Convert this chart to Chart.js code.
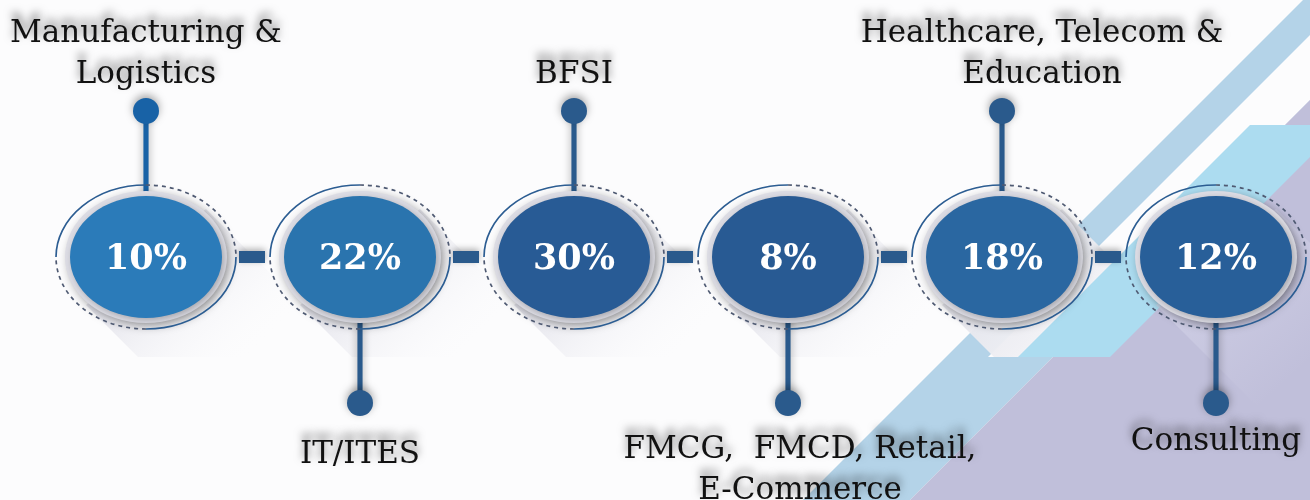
<!DOCTYPE html>
<html>
<head>
<meta charset="utf-8">
<title>Industry mix</title>
<script src="https://cdn.jsdelivr.net/npm/chart.js@4.4.1/dist/chart.umd.min.js"></script>
<style>
  html, body { margin: 0; padding: 0; background: #fcfcfd; }
  #wrap { width: 1310px; height: 500px; position: relative; }
</style>
</head>
<body>
<div id="wrap"><canvas id="myChart"></canvas></div>
<script>
///////////// DATA /////////////

const industries = [
  ['Manufacturing &', 'Logistics'],
  ['IT/ITES'],
  ['BFSI'],
  ['FMCG,  FMCD, Retail,', 'E-Commerce'],
  ['Healthcare, Telecom &', 'Education'],
  ['Consulting']
];
const shares = [10, 22, 30, 8, 18, 12];      // % share per industry
const side = [1, -1, 1, -1, 1, -1];          // label above (1) or below (-1) the node

///////////// LOOK /////////////

const fills = ['#2b7bb9', '#2a74ae', '#285b95', '#285a93', '#2a67a1', '#285f99'];
const dotColors = ['#1862a6', '#2a5a8c', '#2a5a8c', '#2a5a8c', '#2a5a8c', '#2a5a8c'];
const labelShift = [[0, 0], [0, 5], [0, 0], [12, 0], [40, 0], [0, -8]];  // nudges in px
const serif = '"DejaVu Serif", "Liberation Serif", serif';

function poly(ctx, pts, color) {
  ctx.beginPath();
  pts.forEach(([x, y], i) => i ? ctx.lineTo(x, y) : ctx.moveTo(x, y));
  ctx.closePath();
  ctx.fillStyle = color;
  ctx.fill();
}

// background stripes + long soft shadows behind the nodes
const backdrop = {
  id: 'backdrop',
  beforeDraw(chart) {
    const { ctx, width, height } = chart;
    ctx.save();
    ctx.fillStyle = '#fcfcfd';
    ctx.fillRect(0, 0, width, height);
    poly(ctx, [[1303, 0], [1410, 0], [910, 500], [803, 500]], '#b4d3e8');
    poly(ctx, [[1345, 0], [1410, 0], [1053, 357], [988, 357]], '#fcfcfd');
    ctx.restore();
  },
  beforeDatasetsDraw(chart) {
    const { ctx, scales: { x, y } } = chart;
    const cy = y.getPixelForValue(0);
    ctx.save();
    shares.forEach((v, i) => {
      if (i === 5) return;
      const cx = x.getPixelForValue(i);
      const ax = cx - 60, ay = cy + 48, bx = cx + 60, by = cy - 48;
      const g = ctx.createLinearGradient(cx, cy, cx + 100, cy + 100);
      if (i === 4) {
        g.addColorStop(0, 'rgba(228,228,235,0.97)');
        g.addColorStop(1, 'rgba(250,250,252,0.93)');
      } else {
        g.addColorStop(0, 'rgba(215,215,226,0.7)');
        g.addColorStop(1, 'rgba(250,250,252,0)');
      }
      poly(ctx, [[ax, ay], [bx, by], [bx + (357 - by), 357], [ax + (357 - ay), 357]], g);
    });
    // lavender corner and cyan block sit above the long shadows
    poly(ctx, [[1310, 100], [1310, 500], [910, 500]], '#c0bfda');
    poly(ctx, [[1250, 125], [1342, 125], [1110, 357], [1018, 357]], '#acdcf0');
    const g2 = ctx.createLinearGradient(1216, 257, 1310, 360);
    g2.addColorStop(0, 'rgba(215,215,235,0.6)');
    g2.addColorStop(1, 'rgba(215,215,235,0)');
    poly(ctx, [[1156, 305], [1276, 209], [1424, 357], [1304, 453]], g2);
    ctx.restore();
  },
  beforeDatasetDraw(chart) {
    const { ctx } = chart;
    ctx.save();
    ctx.shadowColor = 'rgba(0,0,0,0.35)';
    ctx.shadowBlur = 8;
    ctx.shadowOffsetY = -3;
  },
  afterDatasetDraw(chart) {
    chart.ctx.restore();
  },
  afterDatasetsDraw(chart) {
    const { ctx, scales: { x, y } } = chart;
    const cy = y.getPixelForValue(0);
    ctx.save();

    // connectors between nodes
    for (let i = 0; i < shares.length - 1; i++) {
      const mid = (x.getPixelForValue(i) + x.getPixelForValue(i + 1)) / 2;
      ctx.save();
      ctx.shadowColor = 'rgba(0,0,0,0.3)';
      ctx.shadowBlur = 6;
      ctx.shadowOffsetY = -2;
      ctx.fillStyle = '#2a5a8c';
      ctx.fillRect(mid - 14, cy - 6, 26, 12);
      ctx.restore();
    }

    shares.forEach((v, i) => {
      const cx = x.getPixelForValue(i);

      // soft grey bevel
      ctx.save();
      ctx.shadowColor = 'rgba(0,0,0,0.35)';
      ctx.shadowBlur = 10;
      ctx.shadowOffsetX = 3;
      ctx.shadowOffsetY = 3;
      ctx.beginPath();
      ctx.ellipse(cx, cy, 81, 66, 0, 0, Math.PI * 2);
      ctx.fillStyle = '#dcdce4';
      ctx.fill();
      ctx.restore();

      // coloured disc
      ctx.save();
      ctx.shadowColor = 'rgba(0,0,0,0.25)';
      ctx.shadowBlur = 6;
      ctx.shadowOffsetX = 2;
      ctx.shadowOffsetY = 2;
      ctx.beginPath();
      ctx.ellipse(cx, cy, 76, 61, 0, 0, Math.PI * 2);
      ctx.fillStyle = fills[i];
      ctx.fill();
      ctx.restore();

      // outer ring: solid top-left / bottom-right, dashed elsewhere
      ctx.lineWidth = 1.7;
      [[0, 0.5, false], [0.5, 1, true], [1, 1.5, false], [1.5, 2, true]].forEach(([a, b, dashed]) => {
        ctx.beginPath();
        ctx.ellipse(cx, cy, 90, 72, 0, a * Math.PI, b * Math.PI);
        ctx.setLineDash(dashed ? [4, 4] : []);
        ctx.strokeStyle = dashed ? '#4f5a72' : '#2c5d92';
        ctx.stroke();
      });
      ctx.setLineDash([]);

      // value
      ctx.fillStyle = '#ffffff';
      ctx.font = 'bold 35px ' + serif;
      ctx.textAlign = 'center';
      ctx.textBaseline = 'alphabetic';
      ctx.fillText(v + '%', cx, cy + 12);

      // category label
      const lines = industries[i];
      const [dx, dy] = labelShift[i];
      ctx.save();
      ctx.font = '31px ' + serif;
      ctx.fillStyle = '#111111';
      ctx.shadowColor = 'rgba(0,0,0,0.55)';
      ctx.shadowBlur = 9;
      ctx.shadowOffsetY = -6;
      const lh = 41;
      const base = side[i] > 0 ? 83 - (lines.length - 1) * lh : 458;
      lines.forEach((t, k) => ctx.fillText(t, cx + dx, base + k * lh + dy));
      ctx.restore();
    });
    ctx.restore();
  }
};

///////////// CHART /////////////

const ctx = document.getElementById('myChart').getContext('2d');
window.industryChart = new Chart(ctx, {
  type: 'bar',
  data: {
    labels: industries.map(l => l.join(' ')),
    datasets: [{
      type: 'bar',
      label: 'stems',
      data: side.map(s => [0, s]),
      backgroundColor: dotColors,
      barThickness: 4.5,
      clip: false,
      order: 2
    }, {
      type: 'line',
      label: 'dots',
      data: side,
      showLine: false,
      pointRadius: 13,
      pointHoverRadius: 13,
      pointBorderWidth: 0,
      pointBackgroundColor: dotColors,
      clip: false,
      order: 1
    }]
  },
  options: {
    responsive: true,
    maintainAspectRatio: false,
    animation: false,
    events: [],
    layout: { autoPadding: false, padding: { left: 146, right: 94, top: 0, bottom: 0 } },
    plugins: { legend: { display: false }, tooltip: { enabled: false } },
    scales: {
      x: { display: false, offset: false, grid: { offset: false } },
      y: { display: false, min: -1.664, max: 1.76 }
    }
  },
  plugins: [backdrop]
});
</script>
</body>
</html>
